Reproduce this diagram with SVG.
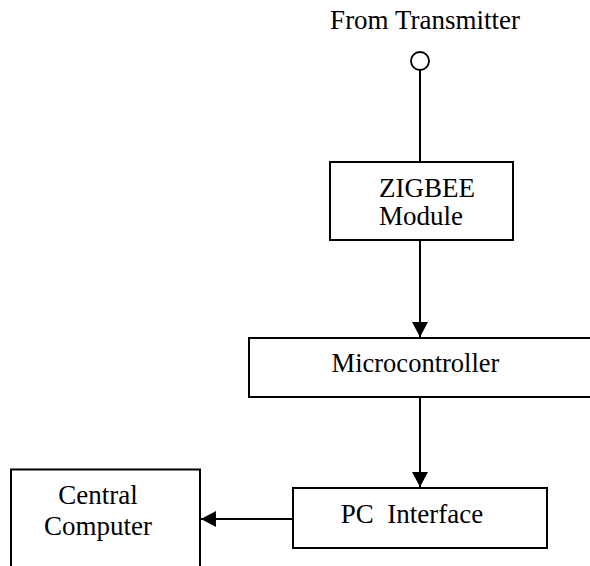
<svg xmlns="http://www.w3.org/2000/svg" width="590" height="566" viewBox="0 0 590 566">
<style>
.box{fill:#fff;stroke:#000;stroke-width:2}
.t{font-family:"Liberation Serif","Times New Roman",serif;fill:#000;font-size:27px}
.c{stroke:#000;stroke-width:2;fill:none}
</style>
<defs>
<marker id="ah" markerWidth="16" markerHeight="16" refX="15" refY="8" orient="auto" markerUnits="userSpaceOnUse">
<path d="M0,0 L15,8 L0,16 Z" fill="#000"/>
</marker>
</defs>
<rect width="590" height="566" fill="#fff"/>
<g id="source">
<text class="t" x="425" y="29" text-anchor="middle">From Transmitter</text>
<circle cx="420" cy="61" r="9" fill="#fff" stroke="#000" stroke-width="1.8"/>
</g>
<g id="zigbee">
<rect class="box" x="330" y="162" width="183" height="78"/>
<text class="t" x="379" y="197">ZIGBEE</text>
<text class="t" x="379" y="225">Module</text>
</g>
<g id="micro">
<rect class="box" x="249" y="338" width="350" height="59"/>
<text class="t" x="415.5" y="372" text-anchor="middle" style="font-size:26.5px">Microcontroller</text>
</g>
<g id="pc">
<rect class="box" x="293" y="488" width="254" height="60"/>
<text class="t" x="412" y="523" text-anchor="middle" xml:space="preserve">PC  Interface</text>
</g>
<g id="central">
<rect class="box" x="11" y="469.5" width="189" height="110"/>
<text class="t" x="98" y="504" text-anchor="middle">Central</text>
<text class="t" x="98" y="535" text-anchor="middle">Computer</text>
</g>
<g id="connectors">
<line class="c" x1="420" y1="70" x2="420" y2="162"/>
<line class="c" x1="420" y1="240" x2="420" y2="337" marker-end="url(#ah)"/>
<line class="c" x1="420" y1="397" x2="420" y2="487" marker-end="url(#ah)"/>
<line class="c" x1="293" y1="519" x2="201" y2="519" marker-end="url(#ah)"/>
</g>
</svg>
